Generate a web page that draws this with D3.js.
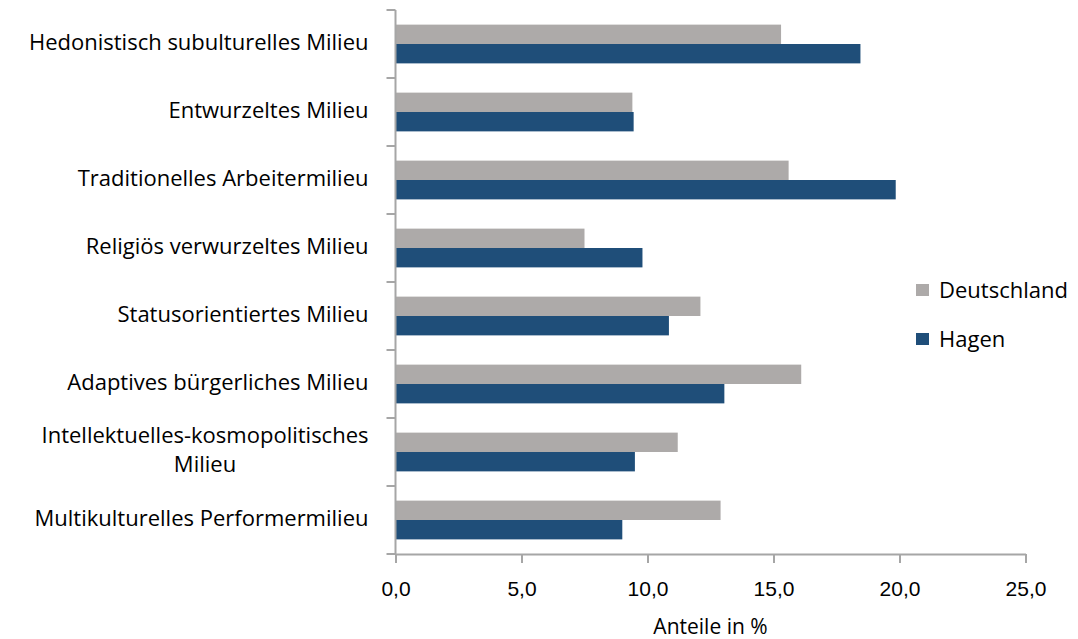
<!DOCTYPE html>
<html>
<head>
  <meta charset="utf-8">
  <script src="https://d3js.org/d3.v7.min.js"></script>
  <style>
    body { margin: 0; background: #fff; }
    svg { font-family: "Open Sans", Lato, sans-serif; }
    .axis path, .axis line { stroke: #a6a6a6; stroke-width: 2px; }
    .axis text { fill: #000; font-size: 21px; }
    .cat text { fill: #000; font-size: 22px; }
    .legend text { fill: #000; font-size: 22px; }
    .xtitle { fill: #000; font-size: 21px; }
  </style>
</head>
<body>
  <svg id="chart"></svg>
  <script>

    var categories = [
      "Hedonistisch subulturelles Milieu",
      "Entwurzeltes Milieu",
      "Traditionelles Arbeitermilieu",
      "Religiös verwurzeltes Milieu",
      "Statusorientiertes Milieu",
      "Adaptives bürgerliches Milieu",
      "Intellektuelles-kosmopolitisches Milieu",
      "Multikulturelles Performermilieu"
    ];

    // labels that wrap onto two lines in the original
    var catLines = {
      "Intellektuelles-kosmopolitisches Milieu": ["Intellektuelles-kosmopolitisches", "Milieu"]
    };

    var seriesNames = ["Deutschland", "Hagen"];
    var deutschland = [15.3, 9.4, 15.6, 7.5, 12.1, 16.1, 11.2, 12.9];
    var hagen = [18.45, 9.45, 19.85, 9.8, 10.85, 13.05, 9.5, 9.0];
    var xTicks = [0, 5, 10, 15, 20, 25];
    var xTitle = "Anteile in %";

    var colors = { "Deutschland": "#adaaa9", "Hagen": "#1f4e79" };

    var width = 1078, height = 639;
    var margin = { top: 10, left: 395.5, right: 52.5, bottom: 85 };

    var svg = d3.select("#chart")
        .attr("width", width)
        .attr("height", height);

    var rows = categories.map(function(c, i) {
      return { cat: c, Deutschland: deutschland[i], Hagen: hagen[i] };
    });

    var x = d3.scaleLinear()
        .domain([0, 25])
        .range([margin.left, width - margin.right]);

    var y = d3.scaleBand()
        .domain(categories)
        .range([margin.top, height - margin.bottom])
        .paddingInner(0.43)
        .paddingOuter(0.215);

    var ySub = d3.scaleBand()
        .domain(seriesNames)
        .range([0, y.bandwidth()]);

    var yStep = y.step();
    var yBottom = height - margin.bottom;

    // bars
    var groups = svg.append("g")
      .selectAll("g")
      .data(rows)
      .enter().append("g")
        .attr("transform", function(d) { return "translate(0," + y(d.cat) + ")"; });

    groups.selectAll("rect")
      .data(function(d) { return seriesNames.map(function(s) { return { key: s, value: d[s] }; }); })
      .enter().append("rect")
        .attr("x", x(0))
        .attr("y", function(d) { return ySub(d.key); })
        .attr("width", function(d) { return x(d.value) - x(0); })
        .attr("height", ySub.bandwidth())
        .attr("fill", function(d) { return colors[d.key]; });

    // x axis
    var xAxis = svg.append("g")
        .attr("class", "axis")
        .attr("transform", "translate(0," + yBottom + ")")
        .call(d3.axisBottom(x)
          .tickValues(xTicks)
          .tickSize(9)
          .tickSizeOuter(0)
          .tickPadding(18)
          .tickFormat(function(d) { return d3.format(".1f")(d).replace(".", ","); }));

    // y axis: line plus ticks at the band boundaries
    var yAxis = svg.append("g").attr("class", "axis");
    yAxis.append("line")
        .attr("x1", x(0)).attr("x2", x(0))
        .attr("y1", margin.top).attr("y2", yBottom);
    yAxis.selectAll("line.tick")
      .data(d3.range(categories.length + 1))
      .enter().append("line")
        .attr("class", "tick")
        .attr("x1", x(0) - 9).attr("x2", x(0))
        .attr("y1", function(i) { return margin.top + i * yStep; })
        .attr("y2", function(i) { return margin.top + i * yStep; });

    // category labels
    var labelRight = x(0) - 27;
    var cat = svg.append("g").attr("class", "cat");
    categories.forEach(function(c) {
      var cy = y(c) + y.bandwidth() / 2 - 2;
      var lines = catLines[c];
      if (!lines) {
        cat.append("text")
            .attr("x", labelRight)
            .attr("y", cy)
            .attr("dy", "0.35em")
            .attr("text-anchor", "end")
            .text(c);
      } else {
        var t = cat.append("text").attr("text-anchor", "middle");
        lines.forEach(function(l, i) {
          t.append("tspan")
              .attr("y", cy + (i - (lines.length - 1) / 2) * 29)
              .attr("dy", "0.35em")
              .text(l);
        });
        var w = 0;
        t.selectAll("tspan").each(function() { w = Math.max(w, this.getComputedTextLength()); });
        t.selectAll("tspan").attr("x", labelRight - w / 2);
      }
    });

    // axis title
    svg.append("text")
        .attr("class", "xtitle")
        .attr("x", (x(0) + x(25)) / 2)
        .attr("y", 634)
        .text(xTitle)
        .attr("text-anchor", "middle");

    // legend
    var legend = svg.append("g")
        .attr("class", "legend")
      .selectAll("g")
      .data(seriesNames)
      .enter().append("g")
        .attr("transform", function(d, i) { return "translate(916," + (290 + i * 49) + ")"; });

    legend.append("rect")
        .attr("x", 0).attr("y", -6)
        .attr("width", 13).attr("height", 12)
        .attr("fill", function(d) { return colors[d]; });

    legend.append("text")
        .attr("x", 23)
        .attr("dy", "0.35em")
        .text(function(d) { return d; });

  </script>
</body>
</html>
